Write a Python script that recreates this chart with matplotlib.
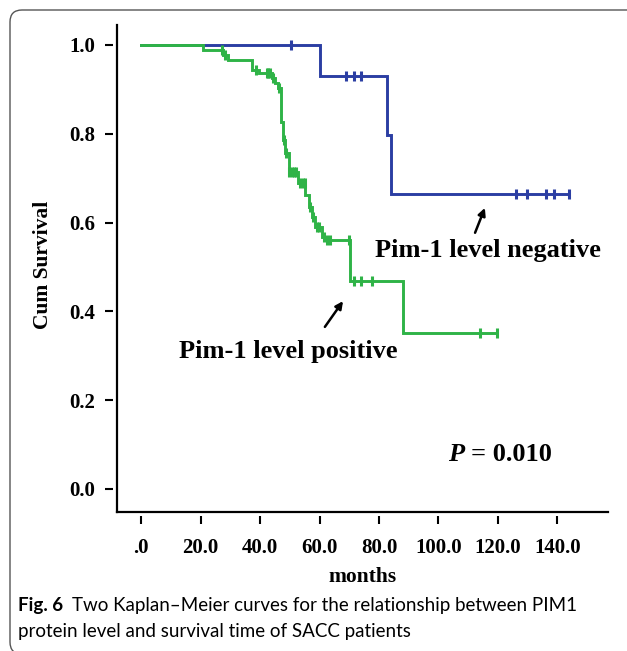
import numpy as np
import matplotlib
matplotlib.use('Agg')
import matplotlib.pyplot as plt
from matplotlib.patches import FancyBboxPatch

SERIF = 'Liberation Serif'
SANS = 'Lato'
BLUE = '#2b3ea3'
GREEN = '#2fb347'

# ── Kaplan-Meier data ────────────────────────────────────────────────────────
neg_event_t = [60.0, 82.7, 84.0]
neg_surv    = [0.929, 0.797, 0.664]
neg_censor  = [50.5, 69.0, 71.5, 74.0, 126.0, 129.7, 136.0, 139.0, 144.0]

pos_event_t = [20.9, 27.6, 29.3, 37.2, 39.8, 43.9, 45.0, 46.0, 47.2, 47.8,
               48.5, 49.7, 52.8, 55.2, 56.3, 57.5, 58.5, 60.8, 61.8, 70.2, 88.1]
pos_surv    = [0.989, 0.977, 0.966, 0.944, 0.937, 0.925, 0.914, 0.903, 0.827, 0.786,
               0.757, 0.714, 0.689, 0.662, 0.635, 0.613, 0.590, 0.568, 0.561, 0.468, 0.351]
pos_censor  = [27.2, 28.2, 38.8, 42.2, 42.8, 43.4, 44.5, 46.4, 47.9, 48.6,
               49.9, 50.6, 51.3, 52.1, 53.5, 54.3, 55.0, 56.8, 57.8, 59.0,
               59.8, 61.5, 62.4, 63.5, 69.9, 71.5, 73.8, 77.8, 114.0, 119.7]

x_ticks = [0, 20, 40, 60, 80, 100, 120, 140]
x_tick_labels = ['.0', '20.0', '40.0', '60.0', '80.0', '100.0', '120.0', '140.0']
y_ticks = [0.0, 0.2, 0.4, 0.6, 0.8, 1.0]
y_tick_labels = ['0.0', '0.2', '0.4', '0.6', '0.8', '1.0']


def km_curve(ev_t, surv, censor):
    t = np.array([0.0] + list(ev_t) + [max(censor)])
    s = np.array([1.0] + list(surv) + [surv[-1]])
    idx = np.searchsorted(np.array(ev_t), np.array(censor), side='right')
    cs = np.array([1.0] + list(surv))[idx]
    return t, s, np.array(censor), cs


fig = plt.figure(figsize=(6.27, 6.51), dpi=100)

# rounded frame around the figure panel
frame = FancyBboxPatch((0.10, -0.03), 6.6, 6.44,
                       boxstyle='round,pad=0,rounding_size=0.12',
                       transform=fig.dpi_scale_trans, fill=False,
                       ec='#555555', lw=1.0)
fig.patches.append(frame)

ax = fig.add_axes([117/627, 1 - 512/651, (608 - 117)/627, (512 - 25)/651])
ax.set_xlim(-8.1, 157)
ax.set_ylim(-0.052, 1.045)

for ev_t, surv, cens, col in [(neg_event_t, neg_surv, neg_censor, BLUE),
                              (pos_event_t, pos_surv, pos_censor, GREEN)]:
    t, s, ct, cs = km_curve(ev_t, surv, cens)
    ax.step(t, s, where='post', color=col, lw=2.1, solid_joinstyle='miter')
    ax.plot(ct, cs, ls='none', marker='|', ms=7, mew=2.2, color=col)

# axes: detached ticks like SPSS output
for side in ['top', 'right']:
    ax.spines[side].set_visible(False)
for side in ['left', 'bottom']:
    ax.spines[side].set_position(('outward', 3))
    ax.spines[side].set_color('none')
ax.plot([0, 0], [0, 1], transform=ax.transAxes, color='black', lw=1.6,
        clip_on=False, solid_capstyle='projecting')
ax.plot([0, 1], [0, 0], transform=ax.transAxes, color='black', lw=1.6,
        clip_on=False, solid_capstyle='projecting')

ax.set_xticks(x_ticks)
ax.set_xticklabels(x_tick_labels)
ax.set_yticks(y_ticks)
ax.set_yticklabels(y_tick_labels)
ax.tick_params(axis='both', direction='out', length=5.5, width=1.5, color='black')
ax.tick_params(axis='x', pad=10)
ax.tick_params(axis='y', pad=7)
for lab in ax.get_xticklabels() + ax.get_yticklabels():
    lab.set_fontfamily(SERIF)
    lab.set_fontweight('bold')
    lab.set_fontsize(15)

fig.text(363/627, 1 - 577/651, 'months', ha='center', va='center',
         family=SERIF, fontweight='bold', fontsize=15.5)
fig.text(43/627, 1 - 265/651, 'Cum Survival', ha='center', va='center',
         rotation=90, family=SERIF, fontweight='bold', fontsize=15.5)

# labels and arrows
ax.text(116.6, 0.536, 'Pim-1 level negative', ha='center', va='center',
        family=SERIF, fontweight='bold', fontsize=19)
ax.text(49.4, 0.309, 'Pim-1 level positive', ha='center', va='center',
        family=SERIF, fontweight='bold', fontsize=19)
ax.annotate('', xy=(115.6, 0.633), xytext=(112.3, 0.577),
            arrowprops=dict(arrowstyle='-|>', color='black', lw=1.8,
                            mutation_scale=11, shrinkA=0, shrinkB=0))
ax.annotate('', xy=(67.9, 0.423), xytext=(61.8, 0.365),
            arrowprops=dict(arrowstyle='-|>', color='black', lw=1.8,
                            mutation_scale=11, shrinkA=0, shrinkB=0))
ax.text(103.2, 0.077, 'P', ha='left', va='center', family=SERIF,
        fontweight='bold', style='italic', fontsize=19)
ax.text(111.0, 0.077, '= 0.010', ha='left', va='center', family=SERIF,
        fontweight='bold', fontsize=19)

# caption: one font size, fitted so both lines roughly span the original widths
cap_y1 = 1 - 605/651
cap_y2 = 1 - 631/651
line1 = 'Two Kaplan\u2013Meier curves for the relationship between PIM1'
line2 = 'protein level and survival time of SACC patients'
t1 = fig.text(18/627, cap_y1, 'Fig. 6', ha='left', va='center',
              family=SANS, fontweight='bold', fontsize=14)
t2 = fig.text(0, cap_y1, line1, ha='left', va='center', family=SANS, fontsize=14)
t3 = fig.text(18/627, cap_y2, line2, ha='left', va='center', family=SANS, fontsize=14)
fig.canvas.draw()
w_head = t1.get_window_extent().width + 9 * 14 / 13
w1 = w_head + t2.get_window_extent().width
w3 = t3.get_window_extent().width
cap_fs = 0.5 * (14 * (605 - 18) / w1 + 14 * (396 - 18) / w3)
for t in (t1, t2, t3):
    t.set_fontsize(cap_fs)
fig.canvas.draw()
x_after = t1.get_window_extent().x1 + 9
t2.set_x(x_after / fig.bbox.width)

fig.savefig('out.png', dpi=100)
